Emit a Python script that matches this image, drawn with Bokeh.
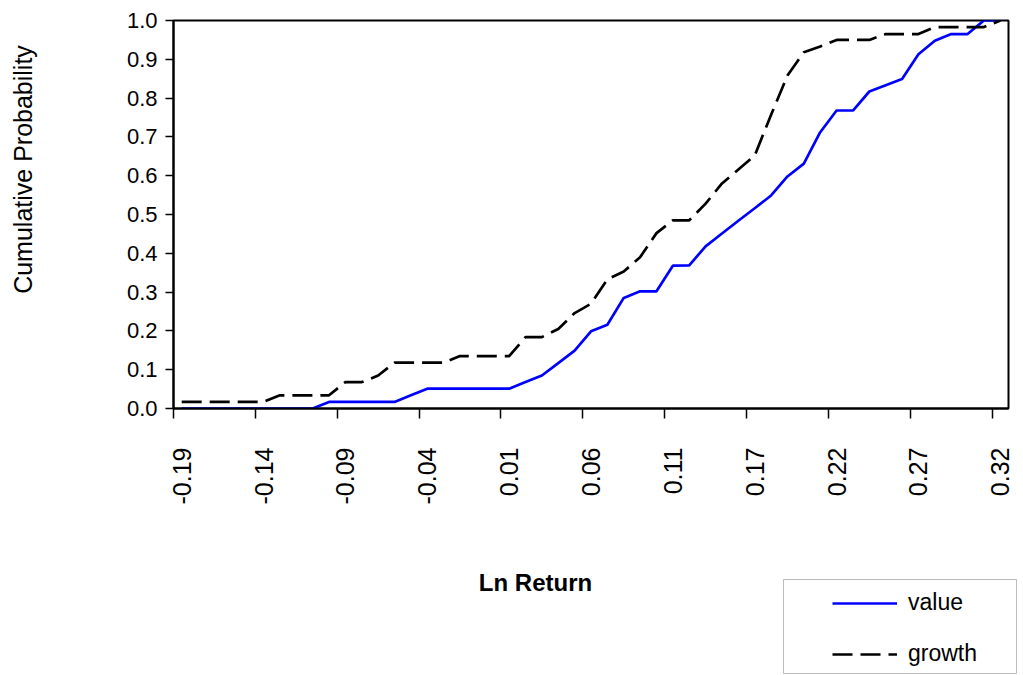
import math
from bokeh.plotting import figure
from bokeh.layouts import row, column
from bokeh.models import (Range1d, FixedTicker, Label, Legend, LegendItem,
                          BoxAnnotation, NumeralTickFormatter)
from bokeh.embed import file_html
from bokeh.resources import INLINE

# ---- data ----
value_cdf = [0, 0, 0, 0, 0, 0, 0, 0, 0,
             0.017, 0.017, 0.017, 0.017, 0.017,
             0.034,
             0.051, 0.051, 0.051, 0.051, 0.051, 0.051,
             0.068, 0.085, 0.117, 0.149, 0.199, 0.216, 0.285, 0.302, 0.302, 0.368,
             0.369, 0.418, 0.451, 0.484, 0.516, 0.549, 0.598, 0.631, 0.712, 0.768,
             0.768, 0.817, 0.833, 0.849, 0.913, 0.948, 0.965, 0.965, 1.0, 1.0]
growth_cdf = [0.017, 0.017, 0.017, 0.017, 0.017, 0.017,
              0.034, 0.034, 0.034, 0.034,
              0.068, 0.068, 0.085,
              0.118, 0.118, 0.118, 0.118,
              0.135, 0.135, 0.135, 0.135,
              0.184, 0.184, 0.205, 0.246, 0.27, 0.333, 0.353, 0.39, 0.452, 0.485,
              0.485, 0.528, 0.58, 0.616, 0.652, 0.757, 0.858, 0.918, 0.933, 0.95,
              0.95, 0.95, 0.965, 0.965, 0.965, 0.983, 0.983, 0.983, 0.983, 1.0]
x_tick_labels = ["-0.19", "-0.14", "-0.09", "-0.04", "0.01", "0.06",
                 "0.11", "0.17", "0.22", "0.27", "0.32"]
label_every = 5
y_ticks = [0.0, 0.1, 0.2, 0.3, 0.4, 0.5, 0.6, 0.7, 0.8, 0.9, 1.0]
series_names = ["value", "growth"]

n = len(value_cdf)
xs = list(range(n))
label_pos = list(range(0, n, label_every))
boundary_pos = [i - 0.5 for i in label_pos]

FONT = "Liberation Sans"
W, H = 1023, 675
LEFT_W = 60           # strip holding the y-axis title
TOP_H = 520           # main plot height
BOT_H = H - TOP_H     # strip holding x title and legend
B_TOP, FRAME_H = 20, 388
B_BOT = TOP_H - B_TOP - FRAME_H
NAN = float("nan")

# ---------------- main plot ----------------
p = figure(width=W - LEFT_W, height=TOP_H, output_backend="svg", toolbar_location=None,
           x_range=Range1d(-0.5, n - 0.5), y_range=Range1d(0, 1),
           min_border_left=113, min_border_top=B_TOP, min_border_right=15,
           min_border_bottom=B_BOT)
p.frame_width = 835
p.frame_height = FRAME_H
p.xgrid.visible = False
p.ygrid.visible = False
p.outline_line_color = "black"
p.outline_line_width = 2
p.background_fill_color = "white"
p.border_fill_color = "white"

ya = p.yaxis[0]
ya.ticker = FixedTicker(ticks=y_ticks)
ya.formatter = NumeralTickFormatter(format="0.0")
ya.axis_line_width = 2
ya.major_tick_out = 8
ya.major_tick_in = 0
ya.major_tick_line_width = 1.5
ya.minor_tick_line_color = None
ya.major_label_standoff = 8
ya.major_label_text_font = FONT
ya.major_label_text_font_size = "22px"
ya.major_label_text_color = "black"

xa = p.xaxis[0]
xa.ticker = FixedTicker(ticks=label_pos, minor_ticks=boundary_pos)
xa.major_label_overrides = {pos: txt for pos, txt in zip(label_pos, x_tick_labels)}
xa.axis_line_width = 2
xa.major_tick_line_color = None
xa.major_tick_out = 0
xa.major_tick_in = 0
xa.minor_tick_line_color = "black"
xa.minor_tick_line_width = 1.5
xa.minor_tick_out = 10
xa.minor_tick_in = 0
xa.major_label_orientation = math.pi / 2
xa.major_label_standoff = 29
xa.major_label_text_font = FONT
xa.major_label_text_font_size = "25px"
xa.major_label_text_color = "black"

p.line(xs, value_cdf, line_color="#0000FF", line_width=2.7)
p.line(xs, growth_cdf, line_color="black", line_width=2.7, line_dash="20 8")

# ---------------- left strip: y-axis title (same vertical frame as main plot) ----------------
pl = figure(width=LEFT_W, height=TOP_H, output_backend="svg", toolbar_location=None,
            x_range=Range1d(0, LEFT_W), y_range=Range1d(0, FRAME_H),
            x_axis_type=None, y_axis_type=None,
            min_border_left=0, min_border_right=0,
            min_border_top=B_TOP, min_border_bottom=B_BOT)
pl.frame_width = LEFT_W
pl.frame_height = FRAME_H
pl.outline_line_color = None
pl.add_layout(Label(x=22, y=(B_TOP + FRAME_H) - 169, text="Cumulative Probability",
                    angle=math.pi / 2, text_align="center", text_baseline="middle",
                    text_font=FONT, text_font_size="25px", text_color="black"))

# ---------------- bottom strip: x-axis title and legend ----------------
pb = figure(width=W, height=BOT_H, output_backend="svg", toolbar_location=None,
            x_range=Range1d(0, W), y_range=Range1d(0, BOT_H),
            x_axis_type=None, y_axis_type=None, min_border=0)
pb.frame_width = W
pb.frame_height = BOT_H
pb.outline_line_color = None
pb.add_layout(Label(x=535, y=H - 582, text="Ln Return",
                    text_align="center", text_baseline="middle",
                    text_font=FONT, text_font_size="24px", text_font_style="bold",
                    text_color="black"))
pb.add_layout(BoxAnnotation(left=783, right=1016, top=H - 579, bottom=H - 673,
                            fill_alpha=0, line_color="#222222", line_width=1))
# legend-only renderers (a single undefined point, nothing is drawn in the strip)
r_val = pb.line(x=[NAN], y=[NAN], line_color="#0000FF", line_width=2.7)
r_gro = pb.line(x=[NAN], y=[NAN], line_color="black", line_width=2.7, line_dash="20 8")
legend = Legend(items=[LegendItem(label=series_names[0], renderers=[r_val]),
                       LegendItem(label=series_names[1], renderers=[r_gro])],
                location=(832, H - 667), margin=0, padding=0, spacing=24,
                glyph_width=65, glyph_height=24, label_height=24, label_standoff=11,
                label_text_font=FONT, label_text_font_size="23px",
                label_text_color="black",
                border_line_color=None, background_fill_alpha=0)
pb.add_layout(legend, "center")

layout = column(row(pl, p), pb)
open("out.html", "w").write(file_html(layout, INLINE))
